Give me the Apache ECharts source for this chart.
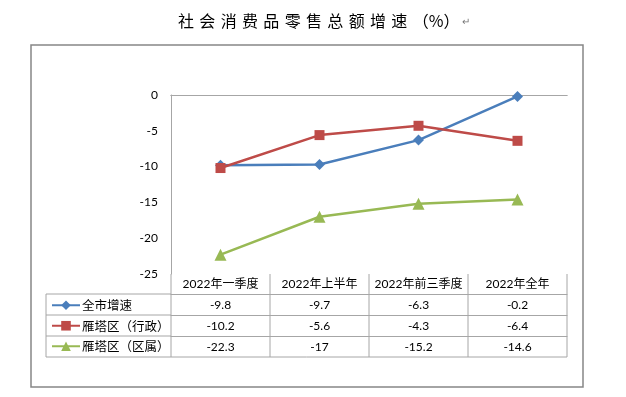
<!DOCTYPE html>
<html>
<head>
<meta charset="UTF-8">
<title>社会消费品零售总额增速</title>
<script src="https://cdn.jsdelivr.net/npm/echarts@6/dist/echarts.min.js"></script>
<style>
  * { margin: 0; padding: 0; }
  body { background: #fff; }
  #main { width: 626px; height: 397px; }
</style>
</head>
<body>
<div id="main"></div>
<script>
// data
var titleHead = '社会消费品零售总额增速';
var titleUnit = '（%）';
var categories = ['2022年一季度', '2022年上半年', '2022年前三季度', '2022年全年'];
var seriesNames = ['全市增速', '雁塔区（行政）', '雁塔区（区属）'];
var cityGrowth = [-9.8, -9.7, -6.3, -0.2];
var yantaAdmin = [-10.2, -5.6, -4.3, -6.4];
var yantaDistrict = [-22.3, -17, -15.2, -14.6];
var yMin = -25, yMax = 0, yStep = 5;

var colors = ['#4A7EBB', '#BE4B48', '#98B954'];
var symbols = ['diamond', 'rect', 'triangle'];
var symbolSizes = [11, 10, 12];
var rows = [cityGrowth, yantaAdmin, yantaDistrict];

var gridLine = '#a6a6a6';
var numFont = 'Lato, "Noto Sans CJK SC", sans-serif';
var cjkFont = '"Noto Sans CJK SC", sans-serif';
var rowOffsets = [20, 41, 62];   // table rows below the plot
var tableLeft = 46, tableBottomOffset = 83;

var myChart = echarts.init(document.getElementById('main'));

// header row = main x axis, one extra x axis per series row
var xAxes = [{
  type: 'category',
  position: 'bottom',
  data: categories,
  boundaryGap: true,
  axisLine: { lineStyle: { color: gridLine } },
  axisTick: { show: false },
  axisLabel: { margin: 4, fontSize: 12, color: '#000', fontFamily: numFont, interval: 0 }
}];
rows.forEach(function (r, i) {
  xAxes.push({
    type: 'category',
    position: 'bottom',
    offset: rowOffsets[i],
    data: r.map(function (v) { return String(v); }),
    axisLine: { show: true, lineStyle: { color: gridLine } },
    axisTick: { show: false },
    axisLabel: { margin: 5, fontSize: 12, color: '#000', fontFamily: numFont, interval: 0 }
  });
});
// line along the top (value 0)
xAxes.push({
  type: 'category',
  position: 'top',
  data: categories,
  axisLine: { show: true, lineStyle: { color: gridLine } },
  axisTick: { show: false },
  axisLabel: { show: false }
});

var series = rows.map(function (r, i) {
  return {
    name: seriesNames[i],
    type: 'line',
    data: r,
    xAxisIndex: 0,
    symbol: symbols[i],
    symbolSize: symbolSizes[i],
    lineStyle: { width: 2.5, color: colors[i] },
    itemStyle: { color: colors[i] },
    z: 3 + i
  };
});

option = {
  animation: false,
  title: {
    text: titleHead.split('').join('\u2004') + '\u2004' + titleUnit + '{p| ↵}',
    left: 173,
    top: 8,
    textStyle: {
      fontFamily: cjkFont,
      fontSize: 16,
      fontWeight: 'normal',
      color: '#000',
      rich: { p: { fontSize: 10, color: '#777' } }
    }
  },
  legend: {
    orient: 'vertical',
    left: 46,
    top: 294,
    itemWidth: 28,
    itemHeight: 12,
    itemGap: 8,
    data: seriesNames,
    textStyle: { fontFamily: cjkFont, fontSize: 12.5, color: '#000', padding: [0, 0, 0, -3] },
    selectedMode: false
  },
  grid: { left: 171, right: 59, top: 95, bottom: 123 },
  xAxis: xAxes,
  yAxis: {
    type: 'value',
    min: yMin,
    max: yMax,
    interval: yStep,
    axisLine: { show: true, lineStyle: { color: gridLine } },
    axisTick: { show: false },
    splitLine: { show: false },
    axisLabel: { margin: 13, fontSize: 12, color: '#000', fontFamily: numFont }
  },
  series: series
};

myChart.setOption(option);

// data table grid lines, placed from the category axis
var c0 = myChart.convertToPixel({ xAxisIndex: 0 }, 0);
var c1 = myChart.convertToPixel({ xAxisIndex: 0 }, 1);
var half = (c1 - c0) / 2;
var plotBottom = myChart.convertToPixel({ yAxisIndex: 0 }, yMin);
var tableBottom = plotBottom + tableBottomOffset;
var graphics = [
  { type: 'rect', shape: { x: 31, y: 45, width: 552, height: 342 },
    style: { fill: null, stroke: '#868686', lineWidth: 1.5 }, silent: true }
];
var lastRight = 0;
categories.forEach(function (c, i) {
  var x = myChart.convertToPixel({ xAxisIndex: 0 }, i) - half;
  graphics.push({ type: 'line', shape: { x1: x, y1: plotBottom, x2: x, y2: tableBottom },
    style: { stroke: gridLine, lineWidth: 1 }, silent: true });
  lastRight = x + 2 * half;
});
graphics.push({ type: 'line', shape: { x1: lastRight, y1: plotBottom, x2: lastRight, y2: tableBottom },
  style: { stroke: gridLine, lineWidth: 1 }, silent: true });
var leftX = c0 - half;
graphics.push({ type: 'polyline',
  shape: { points: [[leftX, plotBottom + rowOffsets[0]], [tableLeft, plotBottom + rowOffsets[0]],
                    [tableLeft, tableBottom], [lastRight, tableBottom]] },
  style: { fill: null, stroke: gridLine, lineWidth: 1 }, silent: true });
rowOffsets.slice(1).forEach(function (o) {
  graphics.push({ type: 'line', shape: { x1: tableLeft, y1: plotBottom + o, x2: leftX, y2: plotBottom + o },
    style: { stroke: gridLine, lineWidth: 1 }, silent: true });
});
myChart.setOption({ graphic: graphics });
</script>
</body>
</html>
